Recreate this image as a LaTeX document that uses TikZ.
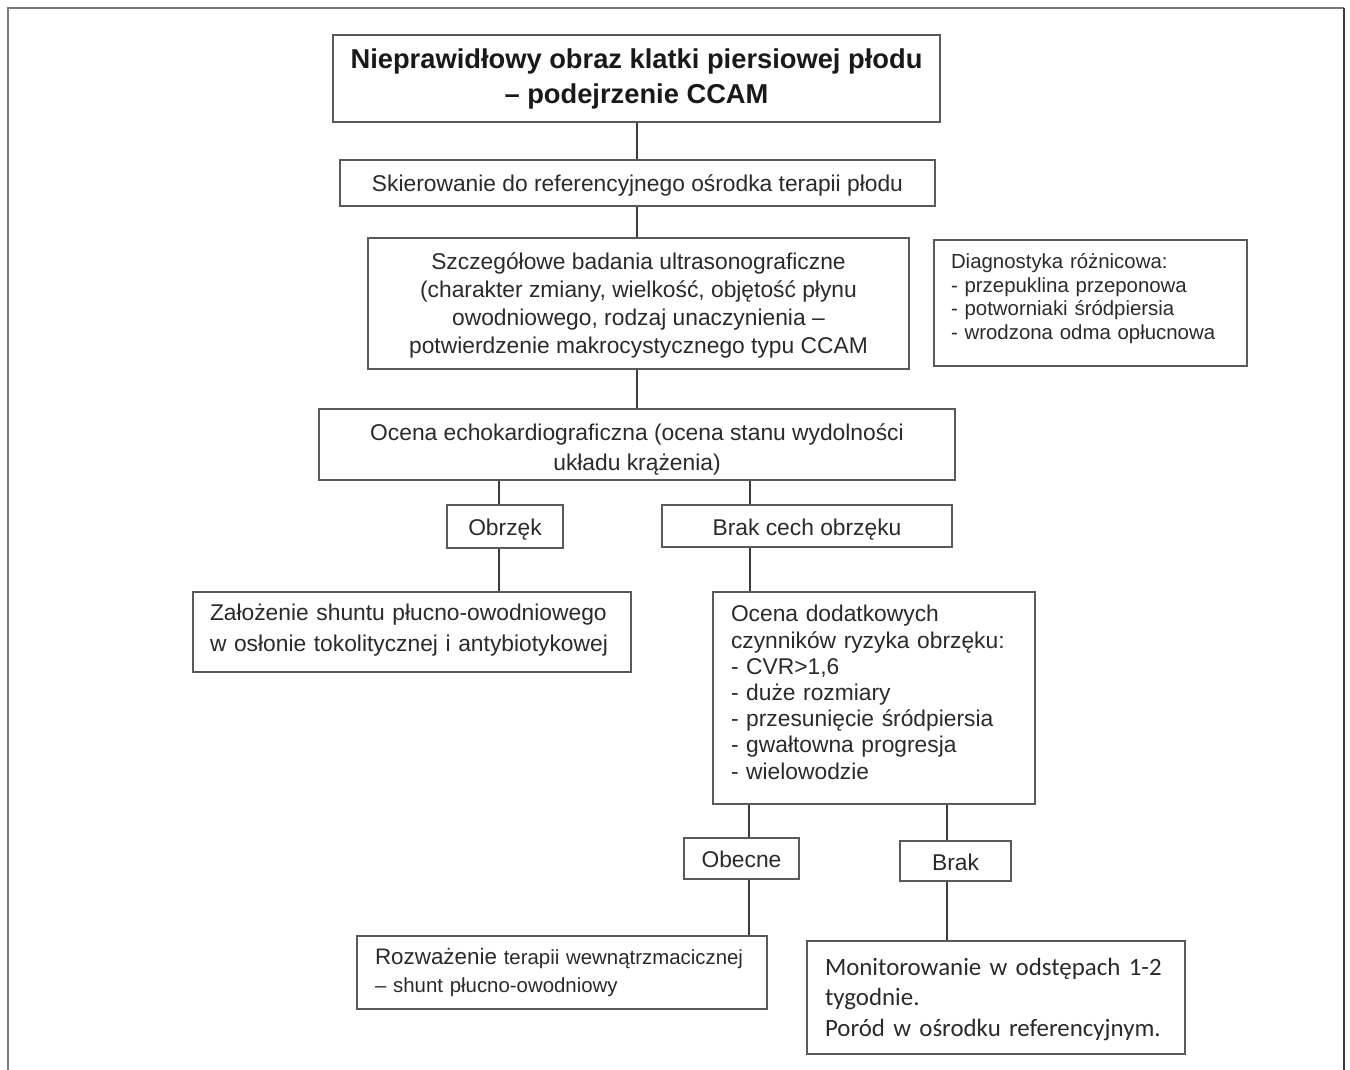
\documentclass[tikz,border=0pt]{standalone}
\usepackage{fontspec}
\setmainfont{Liberation Sans}
\newfontfamily\calib{Carlito}
\definecolor{boxgray}{HTML}{5A5A5A}
\definecolor{linegray}{HTML}{3C3C3C}
\definecolor{txt}{HTML}{2A2A2A}
\definecolor{framegray}{HTML}{7A7A7A}
\newcommand\tpad[1]{\rule{0pt}{#1pt}}
\newcommand\bpad[1]{\rule[-#1pt]{0pt}{0pt}}
\tikzset{
  box/.style={draw=boxgray, line width=1.3pt, inner sep=0pt, text=txt},
  cbox/.style={box, align=center, font={\fontsize{22.8}{28}\selectfont}},
  lbox/.style={box, align=left},
  conn/.style={draw=linegray, line width=1.4pt},
}
\begin{document}
\begin{tikzpicture}[x=1pt,y=-1pt]
\useasboundingbox (0,0) rectangle (1350,1070);
\draw[framegray, line width=2pt] (8,1075) -- (8,8) -- (1344,8);
\draw[linegray, line width=2pt] (1344,8) -- (1344,1075);

\node[box, align=center, minimum width=607pt, minimum height=87pt,
  font={\fontsize{27.3}{35}\selectfont\bfseries}, text=black!90]
  (title) at (636.5,78.5) {Nieprawidłowy obraz klatki piersiowej płodu\\– podejrzenie CCAM};
\node[cbox, minimum width=595pt, minimum height=46pt] (skier) at (637.5,183)
  {\tpad{22}Skierowanie do referencyjnego ośrodka terapii płodu\bpad{6}};
\node[cbox, minimum width=541pt, minimum height=131pt] (szcz) at (638.5,303.5)
  {\tpad{22}Szczegółowe badania ultrasonograficzne\\(charakter zmiany, wielkość, objętość płynu\\owodniowego, rodzaj unaczynienia –\\potwierdzenie makrocystycznego typu CCAM\bpad{7}};
\node[lbox, text width=279pt, inner xsep=17pt, minimum height=126pt,
  font={\fontsize{20.4}{23.5}\selectfont}] (diag) at (1090.5,303)
  {\tpad{20}Diagnostyka różnicowa:\\- przepuklina przeponowa\\- potworniaki śródpiersia\\- wrodzona odma opłucnowa\bpad{18}};
\node[cbox, minimum width=636pt, minimum height=71pt,
  font={\fontsize{22.8}{30}\selectfont}] (echo) at (637,444.5)
  {\tpad{27}Ocena echokardiograficzna (ocena stanu wydolności\\układu krążenia)\bpad{6}};
\node[cbox, minimum width=116pt, minimum height=43pt] (obrz) at (505,526.5) {\tpad{23}Obrzęk\bpad{6}};
\node[cbox, minimum width=290pt, minimum height=42pt] (brakc) at (807,526) {\tpad{24}Brak cech obrzęku\bpad{6}};
\node[lbox, text width=404pt, inner xsep=17pt, minimum height=80pt,
  font={\fontsize{22.8}{31}\selectfont}] (zal) at (412,632)
  {\tpad{20}Założenie shuntu płucno-owodniowego\\w osłonie tokolitycznej i antybiotykowej\bpad{13}};
\node[lbox, text width=286pt, inner xsep=18pt, minimum height=212pt,
  font={\fontsize{22.8}{26.2}\selectfont}] (dod) at (874,698)
  {\tpad{20}Ocena dodatkowych\\czynników ryzyka obrzęku:\\- CVR>1,6\\- duże rozmiary\\- przesunięcie śródpiersia\\- gwałtowna progresja\\- wielowodzie\bpad{15}};
\node[cbox, minimum width=115pt, minimum height=41pt] (obec) at (741.5,858.5) {\tpad{23}Obecne\bpad{6}};
\node[cbox, minimum width=111pt, minimum height=40pt] (brak) at (955.5,861) {\tpad{24}Brak\bpad{6}};
\node[lbox, text width=374pt, inner xsep=18pt, minimum height=73pt,
  font={\fontsize{20.4}{28}\selectfont}] (roz) at (562,972.5)
  {\tpad{20}{\fontsize{22.4}{28}\selectfont Rozważenie} terapii wewnątrzmacicznej\\– shunt płucno-owodniowy\bpad{9}};
\node[lbox, text width=342pt, inner xsep=18pt, minimum height=113pt,
  font={\calib\fontsize{24.9}{30.5}\selectfont}] (mon) at (996,997.5)
  {\tpad{22}Monitorowanie w odstępach 1-2\\tygodnie.\\Poród w ośrodku referencyjnym.\bpad{6}};

\coordinate (xm) at (637,0);
\coordinate (xa) at (499,0);
\coordinate (xb) at (750,0);
\coordinate (xc) at (749,0);
\coordinate (xd) at (947,0);
\draw[conn] (title.south -| xm) -- (skier.north -| xm);
\draw[conn] (skier.south -| xm) -- (szcz.north -| xm);
\draw[conn] (szcz.south -| xm) -- (echo.north -| xm);
\draw[conn] (echo.south -| xa) -- (obrz.north -| xa);
\draw[conn] (echo.south -| xb) -- (brakc.north -| xb);
\draw[conn] (obrz.south -| xa) -- (zal.north -| xa);
\draw[conn] (brakc.south -| xb) -- (dod.north -| xb);
\draw[conn] (dod.south -| xc) -- (obec.north -| xc);
\draw[conn] (dod.south -| xd) -- (brak.north -| xd);
\draw[conn] (obec.south -| xc) -- (roz.north -| xc);
\draw[conn] (brak.south -| xd) -- (mon.north -| xd);
\end{tikzpicture}
\end{document}
